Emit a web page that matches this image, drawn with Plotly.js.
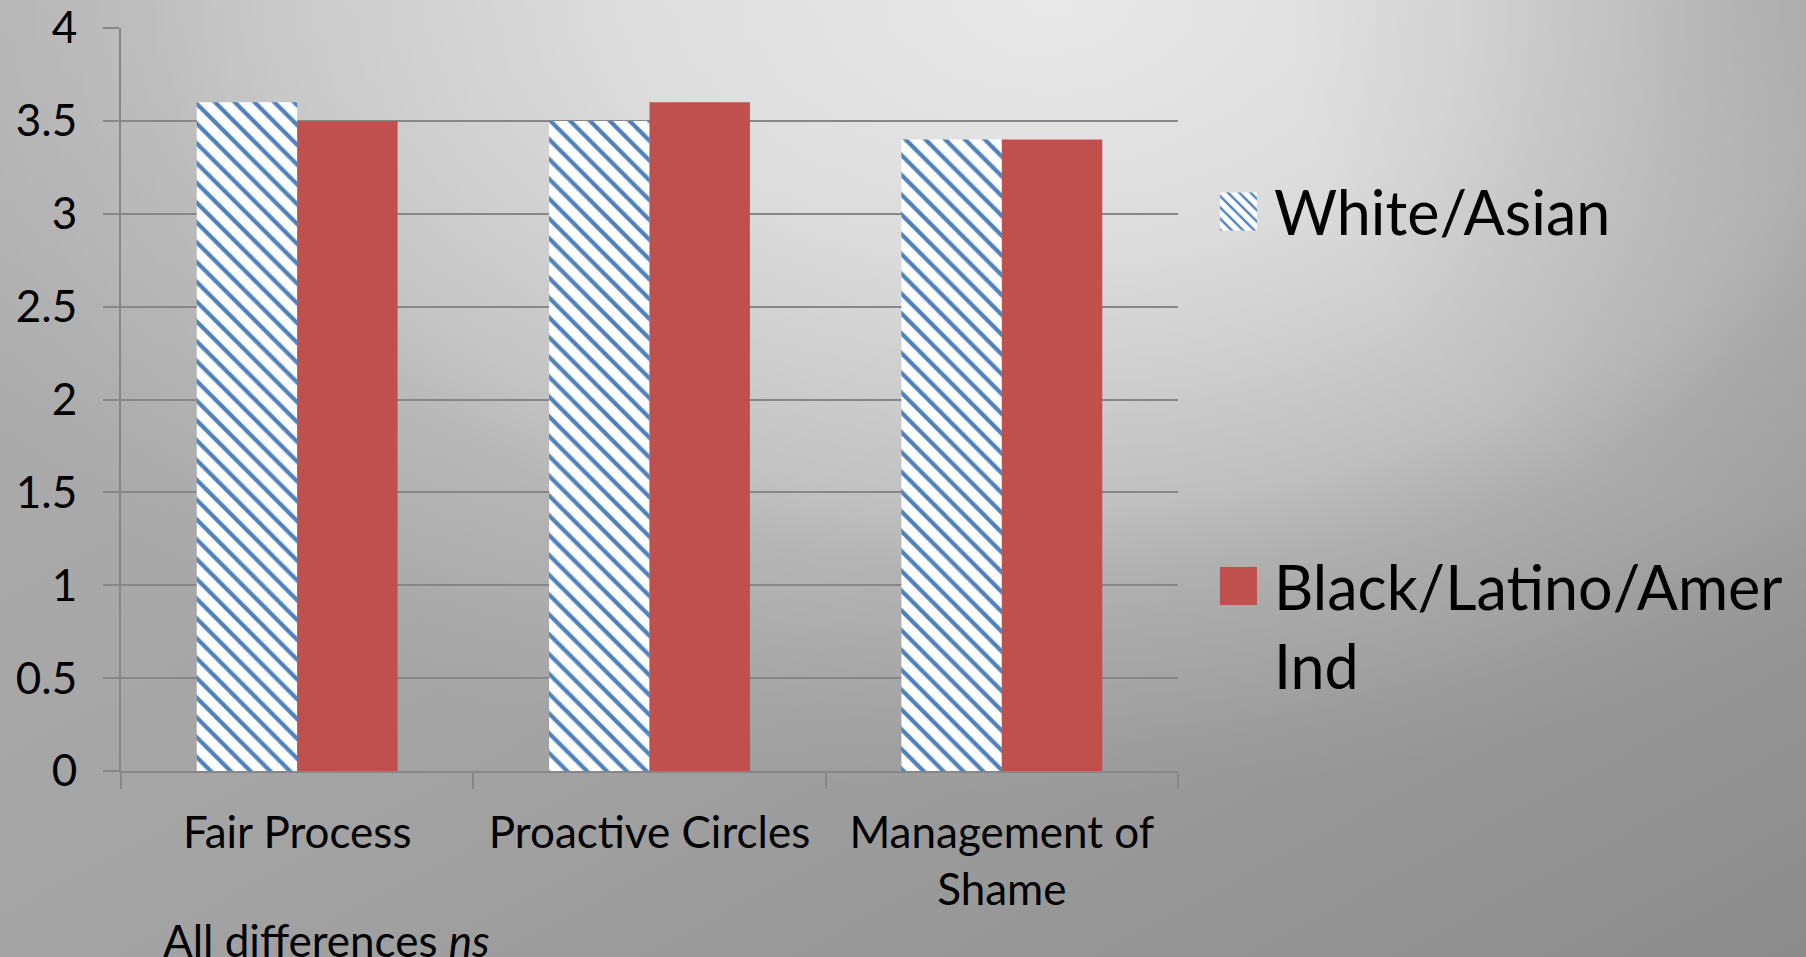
<!DOCTYPE html>
<html>
<head>
<meta charset="utf-8">
<script src="https://cdn.plot.ly/plotly-3.0.1.min.js"></script>
<style>
  html, body { margin: 0; padding: 0; }
  #chart {
    width: 1806px;
    height: 957px;
    background:
      radial-gradient(ellipse 520px 520px at 1806px 0px,
        rgba(0,0,0,0.12) 0%,
        rgba(0,0,0,0.06) 50%,
        rgba(0,0,0,0) 100%),
      radial-gradient(ellipse 1250px 800px at 1050px 0px,
        rgba(255,255,255,0.75) 0%,
        rgba(255,255,255,0.60) 33%,
        rgba(255,255,255,0.33) 63%,
        rgba(255,255,255,0.19) 72%,
        rgba(255,255,255,0.04) 92%,
        rgba(255,255,255,0) 100%),
      linear-gradient(to bottom right, #b0b0b0 0%, #a4a4a4 50%, #8c8c8c 100%);
  }
</style>
</head>
<body>
<div id="chart"></div>
<script>
// Mean scores by group for each practice
const categories = ['Fair Process', 'Proactive Circles', 'Management of<br>Shame'];
const whiteAsian = [3.6, 3.5, 3.4];
const blackLatinoAmerInd = [3.5, 3.6, 3.4];
const seriesNames = ['White/Asian', 'Black/Latino/Amer<br>Ind'];
const yTicks = [0, 0.5, 1, 1.5, 2, 2.5, 3, 3.5, 4];
const yTickText = ['0', '0.5', '1', '1.5', '2', '2.5', '3', '3.5', '4'];
const footnote = 'All differences <i>ns</i>';

const FONT = 'Lato, "Open Sans", sans-serif';
const AXIS_GREY = '#878787';

const traces = [
  {
    type: 'bar',
    name: seriesNames[0],
    legendgroup: 'g1',
    x: categories,
    y: whiteAsian,
    marker: {
      color: '#ffffff',
      line: { width: 0 },
      pattern: {
        shape: '\\',
        fgcolor: '#4F81BD',
        bgcolor: '#ffffff',
        size: 14,
        solidity: 0.3
      }
    },
    hoverinfo: 'skip'
  },
  {
    type: 'bar',
    name: seriesNames[1],
    legendgroup: 'g2',
    x: categories,
    y: blackLatinoAmerInd,
    marker: { color: '#C0504D', line: { width: 0 } },
    hoverinfo: 'skip'
  }
];

const layout = {
  width: 1806,
  height: 957,
  paper_bgcolor: 'rgba(0,0,0,0)',
  plot_bgcolor: 'rgba(0,0,0,0)',
  margin: { l: 121, r: 628, t: 28, b: 186, pad: 0 },
  font: { family: FONT, color: '#000000', size: 44 },
  barmode: 'group',
  bargap: 0.43,
  bargroupgap: 0,
  showlegend: true,
  legend: {
    x: 1.0397,
    xanchor: 'left',
    y: 0.815,
    yanchor: 'top',
    traceorder: 'grouped',
    tracegroupgap: 292,
    valign: 'top',
    itemwidth: 44,
    bgcolor: 'rgba(0,0,0,0)',
    borderwidth: 0,
    font: { family: FONT, size: 61, color: '#000000' }
  },
  xaxis: {
    type: 'category',
    showgrid: false,
    showline: true,
    linecolor: AXIS_GREY,
    linewidth: 2,
    ticks: 'outside',
    tickson: 'boundaries',
    ticklen: 16,
    tickwidth: 2,
    tickcolor: AXIS_GREY,
    ticklabelstandoff: 22,
    tickfont: { family: FONT, size: 44, color: '#000000' },
    fixedrange: true
  },
  yaxis: {
    range: [0, 4],
    tickvals: yTicks,
    ticktext: yTickText,
    showgrid: true,
    gridcolor: AXIS_GREY,
    gridwidth: 2,
    zeroline: false,
    showline: true,
    linecolor: AXIS_GREY,
    linewidth: 2,
    ticks: 'outside',
    ticklen: 16,
    tickwidth: 2,
    tickcolor: AXIS_GREY,
    ticklabelstandoff: 17,
    tickfont: { family: FONT, size: 44, color: '#000000' },
    fixedrange: true
  },
  annotations: [
    {
      text: footnote,
      xref: 'paper',
      yref: 'paper',
      x: 0.038,
      xanchor: 'left',
      y: -0.19,
      yanchor: 'top',
      showarrow: false,
      font: { family: FONT, size: 44, color: '#000000' }
    }
  ]
};

// legend swatches drawn as large squares, set a little left of the label
function enlargeSwatches() {
  document.querySelectorAll('#chart .legend .legendpoints path').forEach(function (p) {
    p.setAttribute('d', 'M10,19H-28V-19H10Z');
  });
}

Plotly.newPlot('chart', traces, layout, { displayModeBar: false }).then(function (gd) {
  enlargeSwatches();
  gd.on('plotly_afterplot', enlargeSwatches);
  setTimeout(enlargeSwatches, 30);
  setTimeout(enlargeSwatches, 200);
});
</script>
</body>
</html>
